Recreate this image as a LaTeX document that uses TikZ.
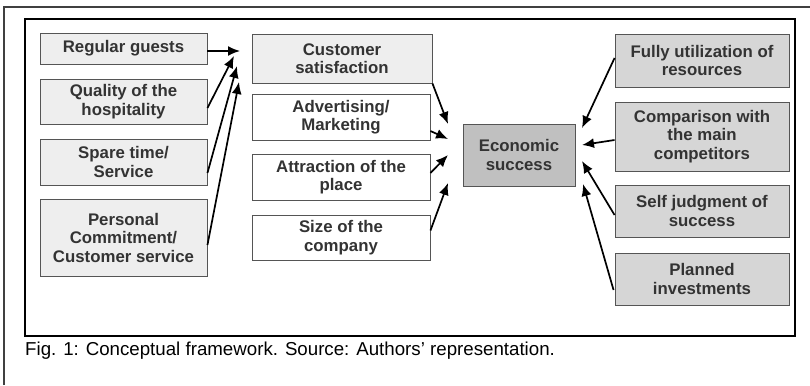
\documentclass[tikz,border=0pt]{standalone}
\usepackage{fontspec}
\setmainfont{Liberation Sans}
\usetikzlibrary{arrows.meta}
\definecolor{txt}{HTML}{333333}
\definecolor{lightfill}{HTML}{EEEEEE}
\definecolor{midfill}{HTML}{D6D6D6}
\definecolor{darkfill}{HTML}{C0C0C0}
\definecolor{edge}{HTML}{555555}
\tikzset{
  box/.style={draw=edge, line width=0.9pt, inner sep=0pt, align=center,
    text=txt, font=\fontsize{16.8}{18.5}\selectfont\bfseries},
  lbox/.style={box, fill=lightfill},
  wbox/.style={box, fill=white},
  rbox/.style={box, fill=midfill},
  ebox/.style={box, fill=darkfill},
  arr/.style={line width=1.7pt, -{Latex[length=12pt,width=10pt]}},
}
\begin{document}
\begin{tikzpicture}[x=1pt,y=-1pt]
\useasboundingbox (0,0) rectangle (810,385);
% frames
\draw[line width=1.5pt, draw=black!75] (4,385) -- (4,7) -- (810,7);
\draw[line width=2pt] (25,19) rectangle (795,336);
% left column
\node[lbox, minimum width=167pt, minimum height=31pt] (reg) at (123.5,48.5) {Regular guests};
\node[lbox, minimum width=167pt, minimum height=45pt] (qual) at (123.5,101.5) {Quality of the\\hospitality};
\node[lbox, minimum width=167pt, minimum height=46pt] (spare) at (123.5,162) {Spare time/\\Service};
\node[lbox, minimum width=167pt, minimum height=77pt] (pers) at (123.5,237.5) {Personal\\Commitment/\\Customer service};
% middle column
\node[lbox, minimum width=180pt, minimum height=49pt] (cust) at (342,58.5) {Customer\\satisfaction};
\node[wbox, minimum width=178pt, minimum height=46pt] (adv) at (341,117) {Advertising/\\Marketing};
\node[wbox, minimum width=178pt, minimum height=46pt] (attr) at (341,177) {Attraction of the\\place};
\node[wbox, minimum width=178pt, minimum height=45pt] (size) at (341,237.5) {Size of the\\company};
% center
\node[ebox, minimum width=112pt, minimum height=62pt] (econ) at (519,155) {Economic\\success};
% right column
\node[rbox, minimum width=174pt, minimum height=53pt] (fully) at (702,60.5) {Fully utilization of\\resources};
\node[rbox, minimum width=174pt, minimum height=69pt] (comp) at (702,136.5) {Comparison with\\the main\\competitors};
\node[rbox, minimum width=174pt, minimum height=52pt] (self) at (702,211) {Self judgment of\\success};
\node[rbox, minimum width=174pt, minimum height=52pt] (plan) at (702,279) {Planned\\investments};
% arrow tips
\coordinate (t1) at (240,51);
\coordinate (t2) at (234,56);
\coordinate (t3) at (237,66);
\coordinate (t4) at (239,82);
\coordinate (m1) at (448,124);
\coordinate (m2) at (448,139);
\coordinate (m3) at (448,155);
\coordinate (m4) at (448,183);
\coordinate (r1) at (582,128);
\coordinate (r2) at (582,145);
\coordinate (r3) at (582,161);
\coordinate (r4) at (583,184);
% arrows left
\draw[arr] ([yshift=-2.5pt]reg.east) -- (t1);
\draw[arr] ([yshift=-6.5pt]qual.east) -- (t2);
\draw[arr] ([yshift=-11pt]spare.east) -- (t3);
\draw[arr] ([yshift=-7.5pt]pers.east) -- (t4);
% arrows middle
\draw[arr] (cust.south east) -- (m1);
\draw[arr] ([yshift=-14pt]adv.east) -- (m2);
\draw[arr] ([yshift=4pt]attr.east) -- (m3);
\draw[arr] ([yshift=7pt]size.east) -- (m4);
% arrows right
\draw[arr] ([yshift=2.5pt]fully.west) -- (r1);
\draw[arr] ([yshift=-3.5pt]comp.west) -- (r2);
\draw[arr] ([yshift=-4pt]self.west) -- (r3);
\draw[arr] ([yshift=-11pt,xshift=-1pt]plan.west) -- (r4);
% caption
\node[anchor=base west, inner sep=0pt, font=\fontsize{18.7}{21}\selectfont] (cap) at (25,355) {Fig. 1: Conceptual framework. Source: Authors’ representation.};
\end{tikzpicture}
\end{document}
